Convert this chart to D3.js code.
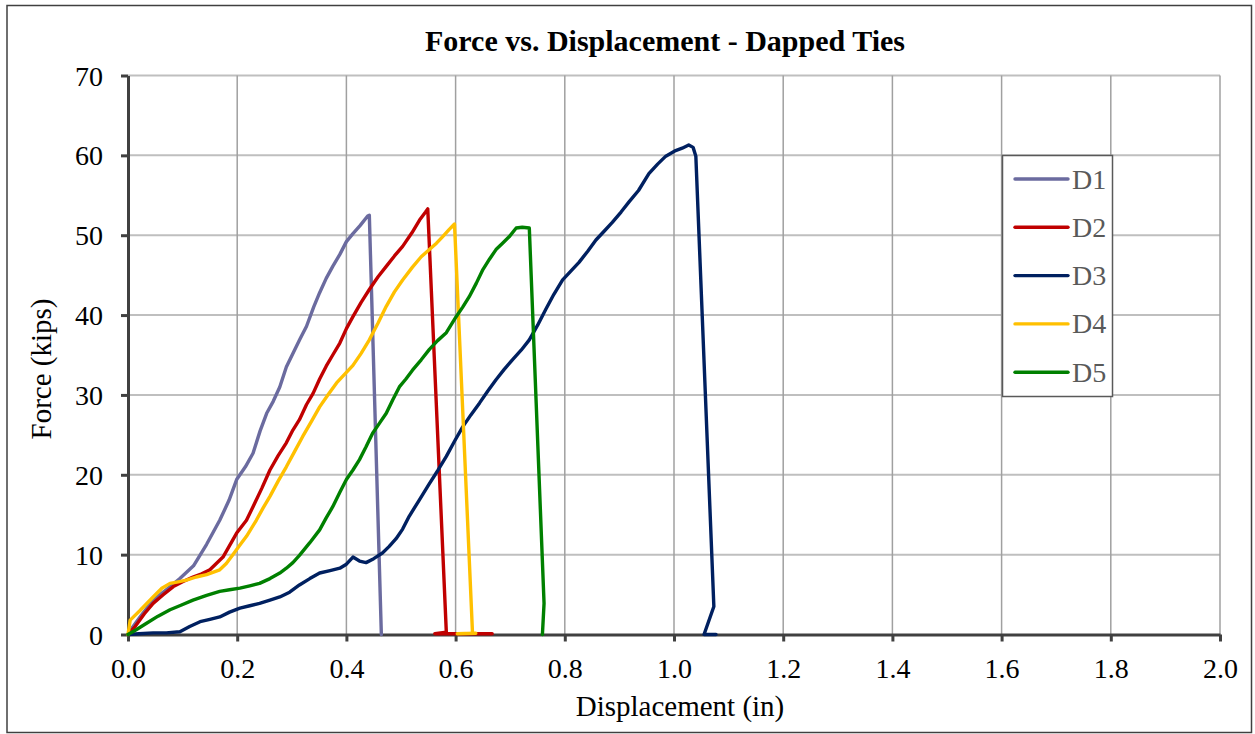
<!DOCTYPE html>
<html>
<head>
<meta charset="utf-8">
<script src="https://d3js.org/d3.v7.min.js"></script>
<style>
  html, body { margin: 0; padding: 0; background: #fff; }
  svg { display: block; font-family: "Liberation Serif", "Times New Roman", serif; }
</style>
</head>
<body>
<svg id="chart" width="1255" height="734"></svg>
<script>
// Test curves: displacement (in) and force (kips)
const seriesNames = ["D1", "D2", "D3", "D4", "D5"];
const seriesColors = ["#6B6B9F", "#C00000", "#002060", "#FFC000", "#008000"];

const d1 = [[0,0],[0.004,0.5],[0.022,2.2],[0.046,4.3],[0.07,5.6],[0.095,7.0],[0.12,8.6],[0.144,11.3],[0.168,14.3],[0.185,16.8],[0.199,19.4],[0.215,21.0],[0.229,22.7],[0.242,25.5],[0.254,27.7],[0.266,29.2],[0.278,31.0],[0.29,33.5],[0.302,35.2],[0.315,37.0],[0.327,38.6],[0.34,41.0],[0.351,42.8],[0.363,44.6],[0.375,46.1],[0.388,47.6],[0.4,49.2],[0.412,50.2],[0.425,51.2],[0.439,52.4],[0.442,52.5],[0.464,0]];

const d2 = [[0,0],[0.013,1.0],[0.03,2.6],[0.046,3.9],[0.065,5.0],[0.083,6.0],[0.1,6.6],[0.119,7.2],[0.135,7.6],[0.15,8.1],[0.174,9.7],[0.199,12.7],[0.217,14.3],[0.229,16.0],[0.245,18.3],[0.26,20.6],[0.275,22.4],[0.29,24.0],[0.302,25.6],[0.314,26.9],[0.327,28.8],[0.339,30.2],[0.351,32.0],[0.363,33.6],[0.375,35.0],[0.388,36.5],[0.4,38.3],[0.412,39.8],[0.427,41.6],[0.442,43.2],[0.458,44.8],[0.473,46.1],[0.488,47.4],[0.503,48.6],[0.52,50.3],[0.534,51.9],[0.545,52.9],[0.549,53.3],[0.583,0.3],[0.562,0.1],[0.667,0.1]];

const d3data = [[0,0],[0.02,0.1],[0.046,0.2],[0.07,0.2],[0.095,0.35],[0.113,1.0],[0.132,1.6],[0.15,1.9],[0.168,2.2],[0.186,2.8],[0.205,3.3],[0.223,3.6],[0.241,3.9],[0.26,4.3],[0.278,4.7],[0.296,5.3],[0.314,6.2],[0.333,7.0],[0.351,7.7],[0.37,8.0],[0.388,8.3],[0.4,8.8],[0.412,9.7],[0.424,9.2],[0.436,9.0],[0.45,9.5],[0.466,10.2],[0.478,11.0],[0.491,12.0],[0.503,13.2],[0.515,14.8],[0.534,16.9],[0.552,18.9],[0.568,20.6],[0.583,22.3],[0.598,24.2],[0.613,26.0],[0.628,27.5],[0.644,29.0],[0.659,30.5],[0.674,31.9],[0.689,33.2],[0.704,34.4],[0.72,35.6],[0.735,36.9],[0.75,38.7],[0.765,40.7],[0.78,42.6],[0.796,44.4],[0.811,45.5],[0.826,46.6],[0.842,48.0],[0.857,49.4],[0.872,50.5],[0.887,51.6],[0.903,52.9],[0.918,54.2],[0.935,55.6],[0.954,57.7],[0.97,58.9],[0.985,59.9],[1.003,60.6],[1.015,60.9],[1.027,61.3],[1.035,61.0],[1.04,59.9],[1.073,3.5],[1.055,0],[1.077,0]];

const d4 = [[0,0],[0.004,1.8],[0.022,3.0],[0.046,4.7],[0.062,5.8],[0.077,6.4],[0.092,6.6],[0.107,6.8],[0.125,7.2],[0.144,7.5],[0.168,8.1],[0.18,8.9],[0.192,10.0],[0.205,11.2],[0.217,12.3],[0.235,14.3],[0.247,15.8],[0.26,17.3],[0.275,19.2],[0.29,21.0],[0.305,22.9],[0.32,24.8],[0.336,26.7],[0.351,28.5],[0.366,30.0],[0.382,31.5],[0.397,32.6],[0.412,33.7],[0.427,35.2],[0.442,36.9],[0.458,39.0],[0.473,41.1],[0.488,42.9],[0.503,44.4],[0.521,46.0],[0.537,47.3],[0.552,48.2],[0.565,49.0],[0.576,49.8],[0.588,50.7],[0.598,51.4],[0.631,0.15],[0.603,0.1],[0.637,0.15]];

const d5 = [[0,0],[0.015,0.6],[0.034,1.4],[0.055,2.3],[0.077,3.1],[0.098,3.7],[0.119,4.3],[0.144,4.9],[0.168,5.4],[0.186,5.6],[0.205,5.8],[0.223,6.1],[0.241,6.4],[0.26,7.0],[0.278,7.7],[0.29,8.3],[0.302,9.0],[0.314,9.9],[0.333,11.5],[0.351,13.1],[0.363,14.6],[0.375,16.0],[0.388,17.8],[0.4,19.4],[0.412,20.6],[0.424,21.9],[0.436,23.5],[0.448,25.2],[0.461,26.5],[0.473,27.7],[0.485,29.4],[0.497,31.0],[0.509,32.0],[0.521,33.1],[0.537,34.4],[0.552,35.7],[0.567,36.8],[0.583,37.8],[0.592,38.8],[0.601,39.8],[0.613,41.0],[0.625,42.3],[0.638,44.0],[0.65,45.7],[0.662,47.0],[0.674,48.2],[0.686,49.0],[0.698,49.8],[0.711,50.9],[0.722,51.0],[0.735,50.9],[0.762,3.9],[0.759,0]];

const seriesData = [d1, d2, d3data, d4, d5];

const xTicks = [0, 0.2, 0.4, 0.6, 0.8, 1.0, 1.2, 1.4, 1.6, 1.8, 2.0];
const yTicks = [0, 10, 20, 30, 40, 50, 60, 70];

const titleText = "Force vs. Displacement - Dapped Ties";
const xTitle = "Displacement (in)";
const yTitle = "Force (kips)";

// Layout
const svg = d3.select("#chart");
const plot = { left: 128, right: 1220, top: 75.5, bottom: 634.5 };
const serif = "'Liberation Serif', 'Times New Roman', serif";

const x = d3.scaleLinear().domain([0, 2]).range([plot.left, plot.right]);
const y = d3.scaleLinear().domain([0, 70]).range([plot.bottom, plot.top]);

// Outer chart frame
svg.append("rect")
  .attr("x", 7).attr("y", 5.5)
  .attr("width", 1244.5).attr("height", 727)
  .attr("fill", "#fff")
  .attr("stroke", "#404040").attr("stroke-width", 1.5);

// Title
svg.append("text")
  .attr("x", 665).attr("y", 51)
  .attr("text-anchor", "middle")
  .attr("font-size", 30).attr("font-weight", "bold")
  .attr("fill", "#000")
  .text(titleText);

// Gridlines
const grid = svg.append("g");
grid.selectAll(".hgrid").data(yTicks.filter(d => d > 0)).join("line")
  .attr("x1", plot.left).attr("x2", plot.right)
  .attr("y1", d => y(d)).attr("y2", d => y(d))
  .attr("stroke", "#BFBFBF").attr("stroke-width", 2);
grid.selectAll(".vgrid").data(xTicks.filter(d => d > 0)).join("line")
  .attr("x1", d => x(d)).attr("x2", d => x(d))
  .attr("y1", plot.top).attr("y2", plot.bottom)
  .attr("stroke", "#A0A0A0").attr("stroke-width", 1.5);

// Axes
const xAxis = d3.axisBottom(x).tickValues(xTicks).tickFormat(d3.format(".1f"))
  .tickSize(7).tickSizeOuter(0).tickPadding(17);
const yAxis = d3.axisLeft(y).tickValues(yTicks).tickFormat(d3.format("d"))
  .tickSize(7).tickSizeOuter(0).tickPadding(18);

const gx = svg.append("g").attr("transform", `translate(0,${plot.bottom})`).call(xAxis);
const gy = svg.append("g").attr("transform", `translate(${plot.left},0)`).call(yAxis);

[gx, gy].forEach(g => {
  g.attr("font-family", serif).attr("font-size", 28);
  g.select(".domain").attr("stroke", "#404040").attr("stroke-width", 3);
  g.selectAll(".tick line").attr("stroke", "#404040").attr("stroke-width", 3);
  g.selectAll(".tick text").attr("fill", "#000");
});
gx.selectAll(".tick text").attr("dy", "0.71em");
gy.selectAll(".tick text").attr("dy", "0.34em");

// Axis titles
svg.append("text")
  .attr("x", 680).attr("y", 716)
  .attr("text-anchor", "middle")
  .attr("font-size", 29).attr("fill", "#000")
  .text(xTitle);
svg.append("text")
  .attr("transform", "translate(51,369) rotate(-90)")
  .attr("text-anchor", "middle")
  .attr("font-size", 29).attr("fill", "#000")
  .text(yTitle);

// Series lines
const line = d3.line().x(d => x(d[0])).y(d => y(d[1]));
svg.append("g").selectAll("path").data(seriesData).join("path")
  .attr("d", line)
  .attr("fill", "none")
  .attr("stroke", (d, i) => seriesColors[i])
  .attr("stroke-width", 3.4)
  .attr("stroke-linejoin", "round")
  .attr("stroke-linecap", "round");

// Legend
const legend = svg.append("g");
legend.append("rect")
  .attr("x", 1002.5).attr("y", 155.5)
  .attr("width", 110).attr("height", 241)
  .attr("fill", "#fff")
  .attr("stroke", "#595959").attr("stroke-width", 1.5);
const items = legend.selectAll(".item").data(seriesNames).join("g")
  .attr("transform", (d, i) => `translate(0,${179 + i * 48.3})`);
items.append("line")
  .attr("x1", 1015).attr("x2", 1068)
  .attr("stroke", (d, i) => seriesColors[i])
  .attr("stroke-width", 3.4).attr("stroke-linecap", "round");
items.append("text")
  .attr("x", 1072).attr("y", 0).attr("dy", "0.34em")
  .attr("font-size", 28).attr("fill", "#595959")
  .text(d => d);
</script>
</body>
</html>
